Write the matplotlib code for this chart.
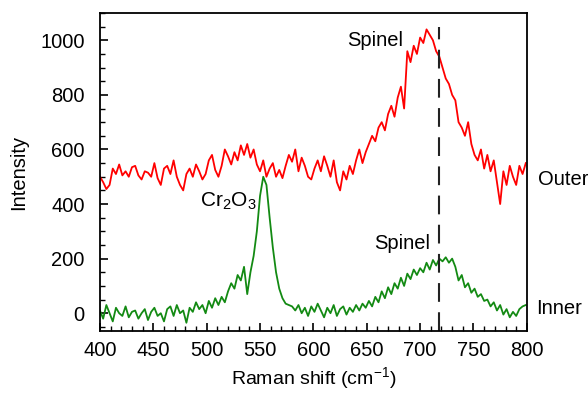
import numpy as np
import matplotlib
matplotlib.use("Agg")
import matplotlib.pyplot as plt
from matplotlib.ticker import MultipleLocator

plt.rcParams['font.family'] = ['Liberation Sans', 'DejaVu Sans']

# Raman shift axis (cm-1), one sample every 3 units
shift = np.arange(400, 801, 3)

# outer layer spectrum (red)
outer = [500, 480, 455, 470, 530, 510, 545, 505, 520, 500, 535,
         540, 505, 490, 520, 515, 500, 550, 495, 470, 530,
         540, 510, 560, 500, 470, 450, 510, 530, 500, 545,
         520, 490, 510, 560, 580, 525, 500, 540, 600, 575,
         545, 590, 560, 615, 580, 620, 570, 600, 545, 520,
         560, 500, 530, 550, 500, 525, 495, 540, 580, 555,
         600, 520, 570, 540, 500, 490, 530, 560, 520, 575,
         540, 500, 560, 480, 450, 520, 490, 540, 510, 560,
         600, 550, 590, 620, 650, 630, 680, 700, 670, 730,
         760, 720, 790, 830, 750, 960, 920, 980, 950, 1010,
         990, 1040, 1020, 1000, 960, 940, 900, 860, 840, 800,
         780, 700, 680, 650, 700, 620, 580, 560, 600, 530,
         580, 520, 560, 480, 400, 520, 470, 540, 500, 470,
         540, 510, 550]

# inner layer spectrum (green)
inner = [10, -20, 30, 0, -30, 20, 0, -10, 25, -15, 5,
         10, -20, 0, 15, -25, 5, 20, -10, 0, -30,
         15, 25, -10, 30, 0, 10, -35, 20, 5, 40,
         15, 30, 0, 45, 20, 55, 30, 60, 40, 80,
         110, 90, 140, 120, 170, 70, 150, 210, 300, 430,
         500, 470, 350, 240, 150, 90, 55, 35, 30, 25,
         10, 30, 0, 20, -10, 25, 5, 35, 10, -15,
         20, 0, 30, -10, 15, 25, -5, 20, 5, 30,
         10, 35, 20, 45, 25, 60, 40, 80, 55, 95,
         70, 110, 90, 130, 100, 145, 125, 160, 140, 165,
         150, 185, 160, 195, 175, 200, 190, 205, 185, 200,
         170, 120, 140, 95, 110, 75, 90, 60, 70, 45,
         50, 25, 40, 10, 30, -5, 15, -15, 5, -10,
         15, 25, 30]

spinel_pos = 718

fig = plt.figure(figsize=(5.88, 3.94), dpi=100)
ax = fig.add_axes([0.170, 0.160, 0.726, 0.807])

ax.plot(shift, outer, color='#ff0000', lw=1.3)
ax.plot(shift, inner, color='#138a13', lw=1.3)
ax.plot([spinel_pos, spinel_pos], [-65, 1050], color='#222222', lw=1.5,
        dashes=(9, 5))

ax.set_xlim(400, 800)
ax.set_ylim(-65, 1100)
ax.xaxis.set_major_locator(MultipleLocator(50))
ax.xaxis.set_minor_locator(MultipleLocator(10))
ax.yaxis.set_minor_locator(MultipleLocator(50))
ax.set_yticks([0, 200, 400, 600, 800, 1000])
ax.tick_params(which='major', direction='in', length=6, width=1.2, labelsize=14.5)
ax.tick_params(axis='y', which='major', pad=11)
ax.tick_params(axis='x', which='major', pad=7)
ax.tick_params(which='minor', direction='in', length=3.5, width=1.0)
for s in ax.spines.values():
    s.set_linewidth(1.3)

ax.set_xlabel('Raman shift (cm$^{\\mathregular{-1}}$)', fontsize=14, labelpad=4)
ax.set_ylabel('Intensity', fontsize=14.5, labelpad=9)

ax.text(632, 998, 'Spinel', fontsize=14.5, va='center')
ax.text(657, 254, 'Spinel', fontsize=14.5, va='center')
ax.text(494, 410, 'Cr$_{\\mathregular{2}}$O$_{\\mathregular{3}}$', fontsize=15, va='center')
ax.text(810, 489, 'Outer', fontsize=14.5, va='center', clip_on=False)
ax.text(809, 18, 'Inner', fontsize=14.5, va='center', clip_on=False)

fig.savefig('out.png', dpi=100)
